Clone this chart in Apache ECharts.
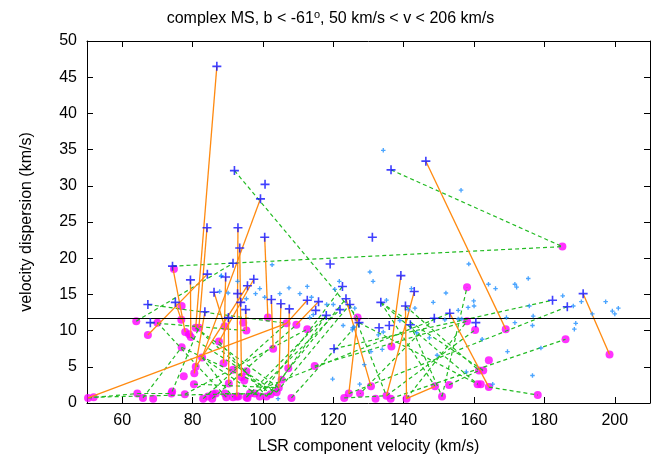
<!DOCTYPE html>
<html><head><meta charset="utf-8">
<script src="https://cdn.jsdelivr.net/npm/echarts@6/dist/echarts.min.js"></script>
<style>html,body{margin:0;padding:0;background:#fff}#c{width:661px;height:469px}</style>
</head><body><div id="c"></div>
<script>
const xTicks = [60, 80, 100, 120, 140, 160, 180, 200];
const yTicks = [0, 5, 10, 15, 20, 25, 30, 35, 40, 45, 50];
const refLine = 11.7;

const plusPoints = [
 [86.9,46.5],[91.9,32.1],[100.6,30.2],[99.3,28.2],[84.1,24.2],[92.9,24.2],[93.4,21.4],[100.5,22.9],[131.1,22.9],[136.4,32.2],[146.3,33.4],
 [67.3,13.6],[68.0,11.1],[74.3,18.9],[75.1,13.9],[79.4,17.0],[84.2,17.8],[83.5,12.6],[86.1,15.3],[89.4,17.4],[91.5,19.3],[92.8,15.1],
 [95.6,16.2],[97.4,17.1],[95.1,12.9],[93.7,13.9],[90.2,11.8],[102.4,14.3],[105.1,13.7],[107.5,13.0],[112.6,14.2],[115.8,14.0],[115.0,12.8],
 [118.0,12.1],[119.1,19.2],[120.2,7.5],[121.9,12.9],[122.6,16.1],[123.6,14.4],[124.7,13.6],[127.3,11.1],
 [139.2,17.6],[143.0,15.4],[140.5,13.4],[133.5,13.9],[133.0,10.4],[135.9,10.7],[141.9,10.8],[148.7,11.7],[153.1,12.4],[160.5,11.1],
 [182.3,14.2],[186.5,13.3],[191.0,15.1]
];

const dotPoints = [
 [134.2,34.9],[156.3,29.4],[88.2,17.6],[102.6,19.1],[107.4,15.9],[104.8,15.1],[112.6,16.1],[110.5,15.1],[113.8,14.6],[100.5,14.6],
 [97.9,15.1],[95.3,14.4],[92.8,16.8],[87.7,15.4],[90.1,15.2],[114.3,12.2],[113.3,11.8],[118.1,13.6],[104.3,0.6],[121.7,16.8],
 [120.0,13.6],[122.8,10.7],[125.5,10.4],[119.8,3.3],[130.4,18.1],[131.3,16.8],[120.4,15.7],[126.1,13.1],[125.9,10.5],[125.4,10.1],
 [128.8,5.3],[130.7,7.1],[133.9,7.4],[132.8,9.4],[135.1,14.2],[138.9,11.4],[141.3,12.9],[142.2,15.8],[143.2,13.1],[143.7,9.7],
 [148.4,13.9],[149.5,6.6],[152.0,15.2],[127.5,2.6],[158.5,19.2],[164.1,16.4],[166.1,15.8],[171.6,16.4],[172.1,16.0],[175.4,17.2],
 [185.2,14.8],[159.9,14.1],[160.0,13.4],[158.3,13.2],[155.5,12.8],[155.5,11.6],[156.5,11.6],[151.7,11.5],[169.2,11.8],[171.6,11.1],
 [175.7,13.4],[176.8,12.0],[176.6,10.7],[162.3,8.8],[169.5,7.1],[157.8,4.3],[165.3,2.6],[176.6,3.8],[188.2,13.4],[190.5,14.0],
 [197.4,14.0],[199.3,12.7],[200.0,12.3],[201.0,13.1],[193.6,12.3],[188.9,11.0],[188.5,10.2],[179.0,7.6],[147.3,9.0],[134.2,9.8],
 [88.1,17.5],[99.1,15.8]
];

const circlePoints = [
 [50.3,0.7],[51.9,0.8],[64.3,1.3],[65.9,0.7],[68.8,0.6],[74.0,1.3],[74.2,1.6],[77.8,1.2],[83.0,0.6],[84.4,0.9],[85.6,0.6],[85.8,1.2],
 [86.6,1.3],[89.2,1.3],[89.6,0.8],[91.5,0.8],[92.6,0.9],[93.0,0.9],[95.3,0.8],[95.6,0.7],[96.3,1.3],[97.7,1.3],[99.1,0.9],[101.0,0.9],
 [102.2,1.2],[103.9,1.5],[104.5,2.1],[108.1,0.7],
 [64.0,11.3],[67.3,9.4],[70.0,11.1],[74.7,18.5],[76.9,13.4],[76.8,11.5],[77.9,9.8],[79.0,9.5],[79.5,9.1],[80.9,10.4],[81.8,10.4],
 [76.9,7.7],[82.7,6.3],[80.9,5.0],[77.5,3.7],[80.5,4.1],[80.4,2.6],[87.5,8.5],[89.1,10.6],[88.8,5.5],[90.3,2.7],[91.5,4.6],[93.9,3.6],
 [94.7,3.1],[95.3,4.4],[94.4,11.1],[95.3,10.0],[101.4,11.8],[102.9,7.5],[105.3,3.2],[106.7,11.0],[107.2,4.8],[109.5,10.8],[112.6,10.2],
 [114.7,5.1],[123.1,0.7],[124.4,1.3],[126.9,11.8],[127.6,1.3],
 [130.7,2.3],[132.0,0.6],[135.1,1.0],[136.3,0.6],[136.5,7.8],[140.8,0.6],[148.9,2.3],[150.9,0.9],[152.9,2.5],[158.0,16.0],[158.0,11.3],
 [160.3,10.1],[169.0,10.2],[186.0,8.8],[164.2,5.9],[161.4,4.5],[162.6,4.5],[161.0,2.6],[161.9,2.6],[164.2,2.2],[178.1,1.1],[198.5,6.7],
 [185.1,21.6]
];

// [x1, y1, x2, y2]
const orangeSegs = [
 [86.9,46.5,80.9,10.4],[84.1,24.2,81.8,10.4],[92.9,24.2,92.6,0.9],[93.4,21.4,93.9,3.6],[100.5,22.9,101.4,11.8],[99.3,28.2,82.7,6.3],
 [84.2,17.8,67.3,9.4],[74.3,18.9,77.9,9.8],[79.4,17.0,79.5,9.1],[50.3,0.7,106.7,11.0],[146.3,33.4,169.0,10.2],[191.0,15.1,198.5,6.7],
 [139.2,17.6,136.5,7.8],[143.0,15.4,135.1,1.0],[140.5,13.4,140.8,0.6],[153.1,12.4,164.2,2.2],[123.6,14.4,130.7,2.3],[126.9,11.8,124.4,1.3],
 [140.8,0.6,148.9,2.3],[89.4,17.4,88.8,5.5],[86.1,15.3,89.1,10.6],[95.1,12.9,95.3,10.0],[102.4,14.3,102.9,7.5],[105.1,13.7,104.5,2.1],
 [107.5,13.0,107.2,4.8],[112.6,14.2,106.7,11.0],[115.8,14.0,109.5,10.8],[87.5,8.5,97.4,17.1],[80.9,5.0,95.6,16.2],[90.2,11.8,90.3,2.7],
 [75.1,13.9,76.8,11.5],[83.5,12.6,80.5,4.1]
];

const greenSegs = [
 [74.3,18.9,185.1,21.6],[136.4,32.2,185.1,21.6],[91.9,32.1,126.9,11.8],[64.0,11.3,91.5,19.3],[67.3,13.6,106.7,11.0],[68.0,11.1,95.3,10.0],
 [70.0,11.1,89.6,0.8],[51.9,0.8,85.6,1.2],[50.3,0.7,64.3,1.3],[64.3,1.3,74.0,1.3],[74.2,1.6,81.8,10.4],[80.9,10.4,102.2,1.2],
 [79.5,9.1,103.9,1.5],[82.7,6.3,99.1,0.9],[77.8,1.2,112.6,10.2],[85.6,0.6,109.5,10.8],[97.7,1.3,121.9,12.9],[99.1,0.9,122.6,16.1],
 [101.0,0.9,123.6,14.4],[103.9,1.5,124.7,13.6],[102.2,1.2,118.0,12.1],[108.1,0.7,127.3,11.1],[80.9,10.4,104.5,2.1],[76.9,7.7,103.9,1.5],
 [133.5,13.9,162.6,4.5],[141.9,10.8,150.9,0.9],[120.2,7.5,182.3,14.2],[124.4,1.3,186.5,13.3],[136.3,0.6,186.0,8.8],[152.9,2.5,161.4,4.5],
 [150.9,0.9,158.0,16.0],[164.2,2.2,178.1,1.1],[123.1,0.7,135.1,1.0],[127.3,11.1,161.0,2.6],[114.7,5.1,158.0,11.3],[135.1,1.0,160.3,10.1],
 [140.8,0.6,158.0,11.3],[140.5,13.4,161.4,4.5],[133.5,13.9,161.0,2.6],[124.7,13.6,135.1,1.0],[133.5,13.9,148.9,2.3],[148.7,11.7,127.6,1.3],
 [96.3,1.3,153.1,12.4],[80.4,2.6,104.5,2.1],[85.8,1.2,97.7,1.3],[89.2,1.3,102.2,1.2],[82.7,6.3,91.5,0.8],[87.5,8.5,101.0,0.9],
 [83.0,0.6,106.7,11.0],[95.3,0.8,118.0,12.1],[65.9,0.7,76.9,7.7]
];

const FONT = 'Liberation Sans, Arial, Helvetica, sans-serif';
const PLUS = 'path://M4.1,0H5.9V4.1H10V5.9H5.9V10H4.1V5.9H0V4.1H4.1Z';
const PLUS_S = 'path://M3.5,0H6.5V3.5H10V6.5H6.5V10H3.5V6.5H0V3.5H3.5Z';

function segData(segs) {
  return segs.map(s => ({ coords: [[s[0], s[1]], [s[2], s[3]]] }));
}

const axisCommon = {
  type: 'value',
  axisLine: { show: true, onZero: false, lineStyle: { color: '#000', width: 1 } },
  splitLine: { show: false }
};

const chart = echarts.init(document.getElementById('c'), null, { renderer: 'canvas' });
chart.setOption({
  animation: false,
  backgroundColor: '#fff',
  title: {
    text: 'complex MS, b < -61{s|o}, 50 km/s < v < 206 km/s',
    left: 'center', top: 4,
    textStyle: {
      fontFamily: FONT, fontSize: 16, fontWeight: 'normal', color: '#000',
      rich: { s: { fontFamily: FONT, fontSize: 11, color: '#000', padding: [0, 0, 9, 0] } }
    }
  },
  grid: { left: 87, right: 11, top: 41, bottom: 66, containLabel: false },
  xAxis: [
    Object.assign({}, axisCommon, {
      position: 'bottom', min: 50, max: 210,
      axisTick: { inside: true, length: 6, customValues: xTicks, lineStyle: { color: '#000' } },
      axisLabel: { customValues: xTicks, fontFamily: FONT, fontSize: 16, color: '#000', margin: 10 },
      name: 'LSR component velocity (km/s)', nameLocation: 'middle', nameGap: 36,
      nameTextStyle: { fontFamily: FONT, fontSize: 16, color: '#000' }
    }),
    Object.assign({}, axisCommon, {
      position: 'top', min: 50, max: 210,
      axisTick: { inside: true, length: 6, customValues: xTicks, lineStyle: { color: '#000' } },
      axisLabel: { show: false }
    })
  ],
  yAxis: [
    Object.assign({}, axisCommon, {
      position: 'left', min: 0, max: 50, interval: 5,
      axisTick: { inside: true, length: 6, lineStyle: { color: '#000' } },
      axisLabel: { fontFamily: FONT, fontSize: 16, color: '#000', margin: 10 },
      name: 'velocity dispersion (km/s)', nameLocation: 'middle', nameGap: 52, nameRotate: 90,
      nameTextStyle: { fontFamily: FONT, fontSize: 16, color: '#000' }
    }),
    Object.assign({}, axisCommon, {
      position: 'right', min: 0, max: 50, interval: 5,
      axisTick: { inside: true, length: 6, lineStyle: { color: '#000' } },
      axisLabel: { show: false }
    })
  ],
  series: [
    {
      type: 'scatter', name: 'end', data: circlePoints, symbol: 'circle', symbolSize: 8,
      itemStyle: { color: '#ff00ff' }, z: 2,
      markLine: {
        silent: true, symbol: 'none', animation: false,
        label: { show: false },
        lineStyle: { color: '#000', width: 1, type: 'solid' },
        data: [{ yAxis: refLine }]
      }
    },
    {
      type: 'lines', coordinateSystem: 'cartesian2d', data: segData(greenSegs), z: 3,
      lineStyle: { color: '#22bb22', width: 1.2, type: [4, 3], opacity: 1 }
    },
    {
      type: 'lines', coordinateSystem: 'cartesian2d', data: segData(orangeSegs), z: 4,
      lineStyle: { color: '#ff8a10', width: 1.3, type: 'solid', opacity: 1 }
    },
    {
      type: 'scatter', name: 'bg', data: dotPoints, symbol: PLUS_S, symbolSize: 4.5,
      itemStyle: { color: '#1e8fff' }, z: 5
    },
    {
      type: 'scatter', name: 'start', data: plusPoints, symbol: PLUS, symbolSize: 9,
      itemStyle: { color: '#1010ff' }, z: 6
    }
  ]
});
</script>
</body></html>
